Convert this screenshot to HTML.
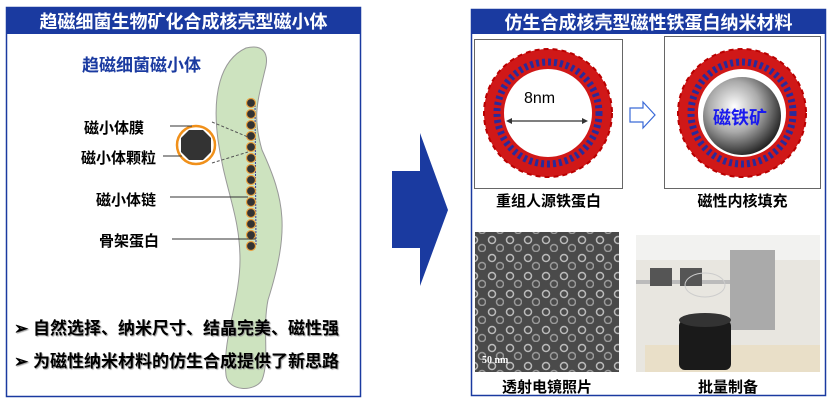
<!DOCTYPE html>
<html><head><meta charset="utf-8"><style>
body{margin:0;width:830px;height:403px;background:#fff;overflow:hidden;font-family:"Liberation Sans","Noto Sans CJK SC",sans-serif;}
.t{position:absolute;font-weight:bold;white-space:nowrap;}
</style></head><body>
<svg width="830" height="403" style="position:absolute;left:0;top:0">
<defs>
<radialGradient id="sph" cx="40%" cy="38%" r="65%"><stop offset="0" stop-color="#fff"/><stop offset="0.5" stop-color="#aaa"/><stop offset="1" stop-color="#222"/></radialGradient>
<pattern id="tem" width="18" height="18" patternUnits="userSpaceOnUse"><rect width="18" height="18" fill="#4a4a4a"/><circle cx="6" cy="6" r="3.5" fill="none" stroke="#bbb" stroke-width="1.5"/><circle cx="14" cy="14" r="3.5" fill="none" stroke="#999" stroke-width="1.5"/></pattern>
</defs>
<rect x="6.5" y="7.5" width="354" height="389" fill="#fff" stroke="#1a3aa0" stroke-width="1.5"/>
<rect x="6" y="7" width="355" height="27" fill="#1a3aa0"/>
<path d="M246,48 C262,44 270,52 265,70 C258,100 252,115 262,150 C285,200 290,230 268,300 C262,330 270,360 262,380 C255,392 228,392 226,375 C222,340 240,300 240,260 C240,215 225,190 218,140 C212,95 220,60 246,48 Z" fill="#cde3bf" stroke="#999" stroke-width="1"/>
<line x1="255" y1="102" x2="256" y2="245" stroke="#3a3a9a" stroke-width="1" stroke-dasharray="2,1"/>
<g fill="#333" stroke="#e8a040" stroke-width="1.2">
<circle cx="251" cy="103" r="4.5"/><circle cx="251" cy="114" r="4.5"/><circle cx="251" cy="125" r="4.5"/><circle cx="251" cy="136" r="4.5"/><circle cx="251" cy="147" r="4.5"/><circle cx="251" cy="158" r="4.5"/><circle cx="251" cy="169" r="4.5"/><circle cx="251" cy="180" r="4.5"/><circle cx="251" cy="191" r="4.5"/><circle cx="251" cy="202" r="4.5"/><circle cx="251" cy="213" r="4.5"/><circle cx="251" cy="224" r="4.5"/><circle cx="251" cy="235" r="4.5"/><circle cx="251" cy="246" r="4.5"/>
</g>
<line x1="212" y1="122" x2="248" y2="137" stroke="#555" stroke-dasharray="3,2"/>
<line x1="212" y1="163" x2="248" y2="152" stroke="#555" stroke-dasharray="3,2"/>
<circle cx="196" cy="145" r="19" fill="#fff" stroke="#f0901a" stroke-width="2.5"/>
<polygon points="189,130 203,130 211,138 211,152 203,160 189,160 181,152 181,138" fill="#333"/>
<line x1="170" y1="126" x2="192" y2="126" stroke="#333"/>
<line x1="163" y1="156" x2="182" y2="156" stroke="#333"/>
<line x1="170" y1="197" x2="248" y2="197" stroke="#333"/>
<line x1="172" y1="239" x2="256" y2="239" stroke="#333"/>
<polygon points="392,171 420,171 420,133 448,210 420,286 420,248 392,248" fill="#1a3aa0"/>
<rect x="471.5" y="9.5" width="354" height="386" fill="#fff" stroke="#1a3aa0" stroke-width="1.5"/>
<rect x="471" y="9" width="355" height="25" fill="#1a3aa0"/>
<rect x="474.5" y="39.5" width="148" height="149" fill="#fff" stroke="#666"/>
<rect x="664.5" y="36.5" width="156" height="152" fill="#fff" stroke="#666"/>
<g>
<circle cx="548" cy="113" r="54" fill="none" stroke="#d01818" stroke-width="20"/>
<circle cx="548" cy="113" r="51" fill="none" stroke="#2a2a9a" stroke-width="7" stroke-dasharray="3,3"/>
<circle cx="548" cy="113" r="64" fill="none" stroke="#b00" stroke-width="2" stroke-dasharray="5,4"/>
<circle cx="742" cy="113" r="54" fill="none" stroke="#d01818" stroke-width="20"/>
<circle cx="742" cy="113" r="51" fill="none" stroke="#2a2a9a" stroke-width="7" stroke-dasharray="3,3"/>
<circle cx="742" cy="113" r="64" fill="none" stroke="#b00" stroke-width="2" stroke-dasharray="5,4"/>
<circle cx="742" cy="116" r="39" fill="url(#sph)"/>
</g>
<line x1="508" y1="121" x2="586" y2="121" stroke="#333" stroke-width="1.2"/>
<polygon points="506,121 512,118 512,124" fill="#333"/><polygon points="588,121 582,118 582,124" fill="#333"/>
<polygon points="630,108 643,108 643,102 655,115 643,128 643,122 630,122" fill="#fff" stroke="#3a6ad8" stroke-width="1.2"/>
<rect x="475" y="232" width="144" height="140" fill="url(#tem)"/>
<text x="482" y="363" fill="#fff" font-size="10" font-family="Liberation Serif" font-weight="bold">50 nm</text>
<rect x="636" y="235" width="184" height="137" fill="#e8e6e0"/>
<rect x="636" y="235" width="184" height="25" fill="#f2f2f0"/>
<rect x="636" y="280" width="110" height="4" fill="#bbb"/>
<rect x="650" y="268" width="22" height="18" fill="#555"/><rect x="680" y="268" width="22" height="18" fill="#555"/>
<rect x="730" y="250" width="45" height="80" fill="#aaa"/>
<rect x="645" y="345" width="175" height="27" fill="#e9dfc8"/>
<ellipse cx="705" cy="285" rx="20" ry="12" fill="none" stroke="#ccc"/>
<rect x="679" y="320" width="52" height="50" rx="6" fill="#1a1a1a"/>
<ellipse cx="705" cy="320" rx="26" ry="7" fill="#333"/>
</svg>
<div class="t" style="left:6px;top:8px;width:355px;text-align:center;color:#fff;font-size:18px">趋磁细菌生物矿化合成核壳型磁小体</div>
<div class="t" style="left:82px;top:51px;color:#1a3aa0;font-size:17px">趋磁细菌磁小体</div>
<div class="t" style="left:84px;top:117px;font-size:15px">磁小体膜</div>
<div class="t" style="left:81px;top:147px;font-size:15px">磁小体颗粒</div>
<div class="t" style="left:96px;top:189px;font-size:15px">磁小体链</div>
<div class="t" style="left:99px;top:230px;font-size:15px">骨架蛋白</div>
<div class="t" style="left:14px;top:314px;font-size:17px;text-shadow:1px 1px 1px #999">➢ 自然选择、纳米尺寸、结晶完美、磁性强</div>
<div class="t" style="left:14px;top:347px;font-size:17px;text-shadow:1px 1px 1px #999">➢ 为磁性纳米材料的仿生合成提供了新思路</div>
<div class="t" style="left:471px;top:9px;width:355px;text-align:center;color:#fff;font-size:18px">仿生合成核壳型磁性铁蛋白纳米材料</div>
<div class="t" style="left:524px;top:90px;font-size:16px;font-weight:normal">8nm</div>
<div class="t" style="left:713px;top:104px;font-size:18px;color:#1a1aee">磁铁矿</div>
<div class="t" style="left:474px;top:190px;width:149px;text-align:center;font-size:15px">重组人源铁蛋白</div>
<div class="t" style="left:664px;top:190px;width:157px;text-align:center;font-size:15px">磁性内核填充</div>
<div class="t" style="left:475px;top:376px;width:144px;text-align:center;font-size:15px">透射电镜照片</div>
<div class="t" style="left:636px;top:376px;width:184px;text-align:center;font-size:15px">批量制备</div>
</body></html>
